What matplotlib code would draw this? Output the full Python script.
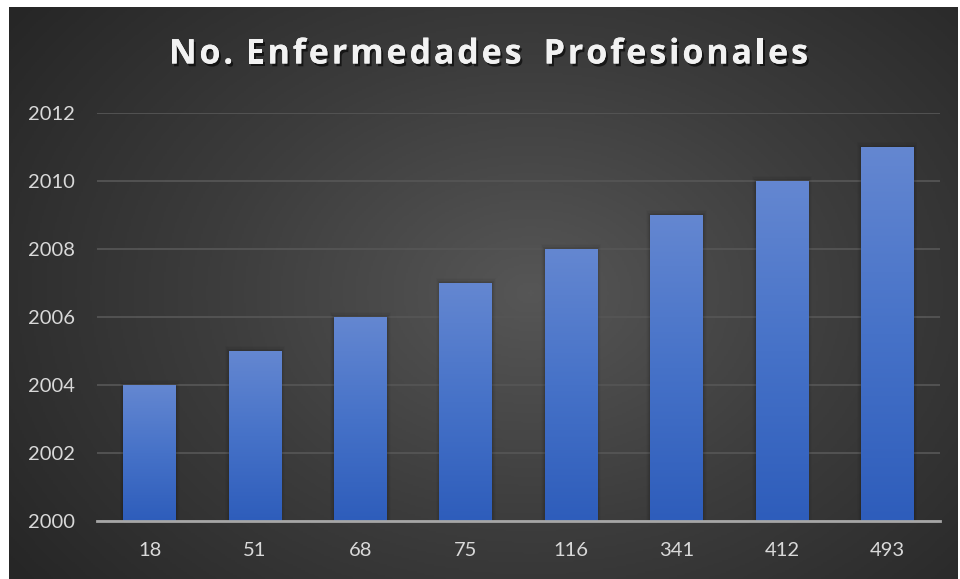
import numpy as np
import matplotlib.pyplot as plt
import matplotlib.patheffects as pe
from matplotlib.colors import LinearSegmentedColormap

categorias = ["18", "51", "68", "75", "116", "341", "412", "493"]
anios = [2004, 2005, 2006, 2007, 2008, 2009, 2010, 2011]
y_ticks = [2000, 2002, 2004, 2006, 2008, 2010, 2012]
titulo = "No. Enfermedades  Profesionales"

W, H = 960, 579
fig = plt.figure(figsize=(W / 100, H / 100), dpi=100, facecolor="white")

# fondo oscuro con degradado radial
bg = fig.add_axes([9 / W, 0, (958 - 9) / W, (H - 7) / H])
bg.set_axis_off()
yy, xx = np.mgrid[0:1:300j, 0:1:500j]
r = np.sqrt(((xx - 0.55) * 1.1) ** 2 + ((yy - 0.5) * 0.9) ** 2)
r = np.clip(r / 0.75, 0, 1)
cmap_bg = LinearSegmentedColormap.from_list("bg", ["#565656", "#3c3c3c", "#262626"])
bg.imshow(r, cmap=cmap_bg, aspect="auto", extent=[0, 1, 0, 1], origin="lower")
bg.set_xlim(0, 1)
bg.set_ylim(0, 1)

ax = fig.add_axes([97 / W, (H - 521) / H, (940 - 97) / W, (521 - 113) / H])
ax.patch.set_alpha(0)
x = np.arange(len(categorias))
ax.set_xlim(-0.5, len(categorias) - 0.5)
ax.set_ylim(2000, 2012)

cmap_bar = LinearSegmentedColormap.from_list("bar", ["#2e5dbb", "#4672c8", "#6487d1"])
grad = np.linspace(0, 1, 256).reshape(-1, 1)
ancho = 0.5
for xi, v in zip(x, anios):
    # sombra suave a los lados
    for k, a in enumerate([0.07, 0.05, 0.035, 0.02]):
        d = 0.009 * (k + 1)
        ax.add_patch(plt.Rectangle((xi - ancho / 2 - d, 2000), ancho + 2 * d, v - 2000 + d * 4,
                                   color="black", alpha=a, lw=0, zorder=2))
    ax.imshow(grad, cmap=cmap_bar, vmin=0, vmax=1,
              aspect="auto", origin="lower",
              extent=[xi - ancho / 2, xi + ancho / 2, 2000, v], zorder=3)

ax.set_yticks(y_ticks)
ax.set_xticks(x)
ax.set_xticklabels(categorias)
ax.grid(axis="y", color="#555555", lw=1.3, zorder=1)
ax.set_axisbelow(True)
for s in ["top", "right", "left"]:
    ax.spines[s].set_visible(False)
ax.spines["bottom"].set_color("#a6a6a6")
ax.spines["bottom"].set_linewidth(2)
ax.spines["bottom"].set_zorder(4)
ax.tick_params(length=0, colors="#d9d9d9", labelsize=14.5)
ax.tick_params(axis="x", pad=15)
ax.tick_params(axis="y", pad=16)
for lab in ax.get_xticklabels() + ax.get_yticklabels():
    lab.set_fontfamily("Lato")

# titulo con espaciado entre letras
sombra = [pe.withSimplePatchShadow(offset=(1.5, -2), shadow_rgbFace="black", alpha=0.6), pe.Normal()]
renderer = fig.canvas.get_renderer()
estilo = dict(color="#f2f2f2", fontsize=24.5, fontweight="bold", family="Open Sans",
              va="center", ha="left")
anchos = []
for c in titulo:
    t = fig.text(0, 0, c if c != " " else "n", **estilo)
    w = t.get_window_extent(renderer).width
    if c == " ":
        w *= 0.3
    anchos.append(w)
    t.remove()
x0, x1 = 169, 808
extra = ((x1 - x0) - sum(anchos)) / (len(titulo) - 1)
pos = x0
for c, w in zip(titulo, anchos):
    if c != " ":
        fig.text(pos / W, 1 - 54.5 / H, c, path_effects=sombra, **estilo)
    pos += w + extra

fig.savefig("out.png", dpi=100, facecolor="white")
